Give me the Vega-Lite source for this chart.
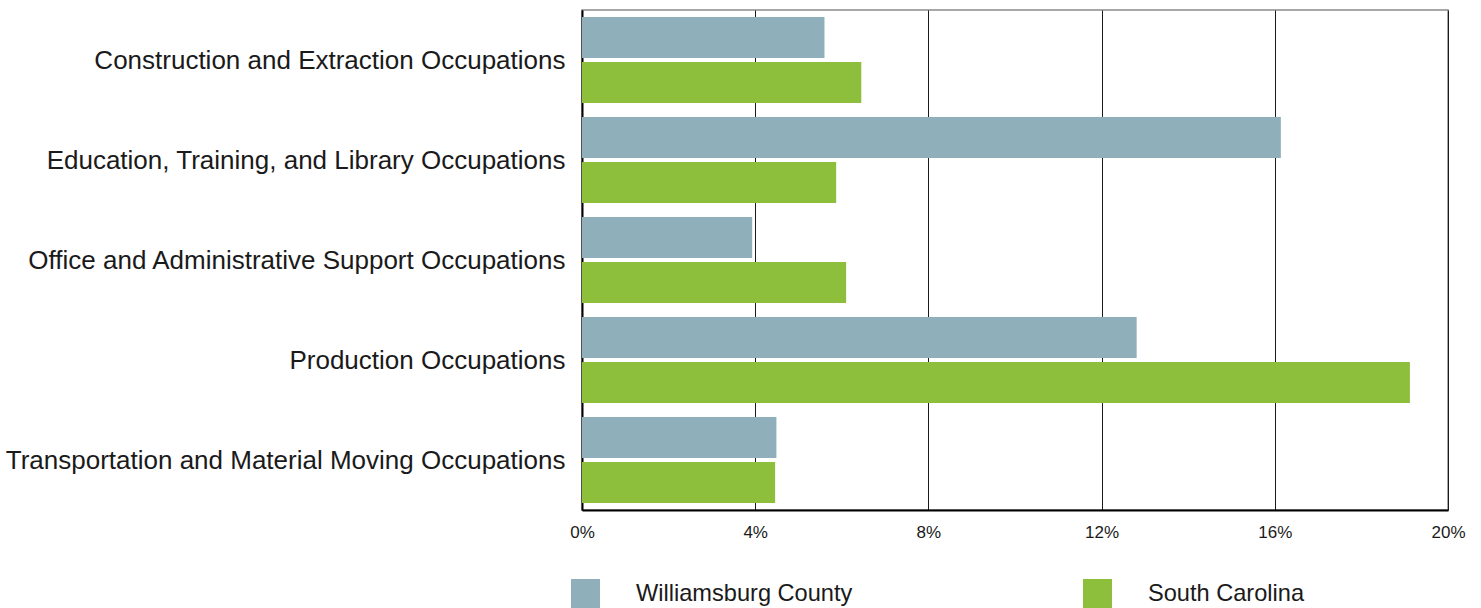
{
  "$schema": "https://vega.github.io/schema/vega-lite/v6.json",
  "width": 866,
  "height": 500,
  "autosize": {"type": "none"},
  "padding": {"left": 582, "top": 10, "right": 33, "bottom": 98},
  "background": "white",
  "config": {
    "font": "Liberation Sans",
    "view": {"stroke": "#8a8a8a", "strokeWidth": 1.5}
  },
  "data": {
    "values": [
      {"occupation": "Construction and Extraction Occupations", "region": "Williamsburg County", "share": 0.056},
      {"occupation": "Construction and Extraction Occupations", "region": "South Carolina", "share": 0.0645},
      {"occupation": "Education, Training, and Library Occupations", "region": "Williamsburg County", "share": 0.1614},
      {"occupation": "Education, Training, and Library Occupations", "region": "South Carolina", "share": 0.0587},
      {"occupation": "Office and Administrative Support Occupations", "region": "Williamsburg County", "share": 0.0393},
      {"occupation": "Office and Administrative Support Occupations", "region": "South Carolina", "share": 0.061},
      {"occupation": "Production Occupations", "region": "Williamsburg County", "share": 0.1281},
      {"occupation": "Production Occupations", "region": "South Carolina", "share": 0.1912},
      {"occupation": "Transportation and Material Moving Occupations", "region": "Williamsburg County", "share": 0.0449},
      {"occupation": "Transportation and Material Moving Occupations", "region": "South Carolina", "share": 0.0446}
    ]
  },
  "mark": {"type": "bar"},
  "encoding": {
    "y": {
      "field": "occupation",
      "type": "nominal",
      "sort": "ascending",
      "scale": {"paddingInner": 0.14, "paddingOuter": 0.07},
      "axis": {
        "title": null,
        "ticks": false,
        "labelFontSize": 26,
        "labelColor": "#1a1a1a",
        "labelPadding": 17,
        "labelOffset": 1,
        "labelLimit": 700,
        "domainColor": "#000000",
        "domainWidth": 2
      }
    },
    "yOffset": {
      "field": "region",
      "type": "nominal",
      "sort": ["Williamsburg County", "South Carolina"],
      "scale": {"paddingInner": 0.089, "paddingOuter": 0}
    },
    "x": {
      "field": "share",
      "type": "quantitative",
      "scale": {"domain": [0, 0.2], "nice": false},
      "axis": {
        "title": null,
        "values": [0, 0.04, 0.08, 0.12, 0.16, 0.2],
        "format": ".0%",
        "ticks": false,
        "labelFontSize": 17,
        "labelColor": "#1a1a1a",
        "labelPadding": 14,
        "labelFlush": false,
        "grid": true,
        "gridColor": "#1a1a1a",
        "gridWidth": 1,
        "gridOpacity": 1,
        "domainColor": "#000000",
        "domainWidth": 2
      }
    },
    "color": {
      "field": "region",
      "type": "nominal",
      "scale": {"domain": ["Williamsburg County", "South Carolina"], "range": ["#8FAFBA", "#8DBE3C"]},
      "legend": {
        "title": null,
        "orient": "none",
        "direction": "horizontal",
        "columns": 2,
        "legendX": -11,
        "legendY": 569,
        "padding": 0,
        "symbolType": "square",
        "symbolSize": 841,
        "symbolStrokeWidth": 0,
        "symbolOpacity": 1,
        "labelFontSize": 23.6,
        "labelColor": "#1a1a1a",
        "labelOffset": 36,
        "columnPadding": 230,
        "labelLimit": 400
      }
    }
  }
}
